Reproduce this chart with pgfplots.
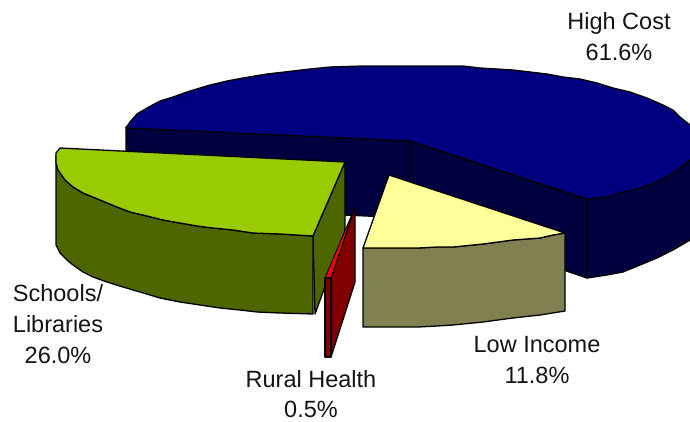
\documentclass[border=0pt]{standalone}
\usepackage{fontspec}
\setmainfont{Liberation Sans}
\usepackage{pgfplots}
\pgfplotsset{compat=1.18}
\definecolor{hcTop}{HTML}{000080}
\definecolor{hcSide}{HTML}{000040}
\definecolor{slTop}{HTML}{99CC00}
\definecolor{slSide}{HTML}{4D6600}
\definecolor{liTop}{HTML}{FFFF99}
\definecolor{liSide}{HTML}{808050}
\definecolor{rhTop}{HTML}{FF0000}
\definecolor{rhSide}{HTML}{800000}
\begin{document}
\begin{tikzpicture}
\begin{axis}[
  scale only axis, width=690pt, height=421pt,
  xmin=0, xmax=690, ymin=0, ymax=421, y dir=reverse,
  hide axis, no markers,
  every axis plot/.append style={draw=black, line width=1.3pt, line join=round},
]
% High Cost: walls
\addplot[fill=hcSide] coordinates {(126,127)(410,141)(410,218)(126,205)} -- cycle;
\addplot[fill=hcSide] coordinates {(410,141)(587,199)(587,278)(410,218)} -- cycle;
\addplot[fill=hcSide] coordinates {(587,199)(607,197)(623,192)(640,188)(657,182)(673,173)(690,160)(700,150)(700,232)(690,240)(673,250)(657,258)(640,265)(623,272)(607,275)(587,278)} -- cycle;
% High Cost: top
\addplot[fill=hcTop] coordinates {(126,128)(130,122)(137,114)(147,108)(160,101)(173,97)(190,91)(210,85)(227,81)(243,78)(267,74)(293,71)(310,69)(330,67)(363,66)(430,66)(463,66)(480,68)(497,69)(513,70)(530,72)(547,74)(563,77)(580,79)(597,83)(613,88)(630,92)(647,98)(663,105)(673,110)(680,117)(690,125)(700,135)(700,150)(690,160)(673,173)(657,182)(640,188)(623,192)(607,197)(587,199)(410,141)} -- cycle;
% Low Income
\addplot[fill=liSide] coordinates {(363,248)(418,248)(437,247)(453,247)(483,244)(513,240)(540,238)(553,235)(565,233)(565,311)(540,315)(513,318)(483,322)(453,325)(437,326)(418,327)(363,327)} -- cycle;
\addplot[fill=liTop] coordinates {(389,175)(565,233)(553,235)(540,238)(513,240)(483,244)(453,247)(437,247)(418,248)(363,248)} -- cycle;
% Schools/Libraries
\addplot[fill=slSide] coordinates {(345,162)(345,232)(315,314)(313,236)} -- cycle;
\addplot[fill=slSide] coordinates {(56,155)(56,163)(58,170)(65,180)(73,187)(83,193)(100,200)(117,207)(130,212)(147,216)(163,220)(180,223)(197,226)(213,228)(233,230)(253,233)(280,234)(313,236)(313,314)(280,313)(257,312)(240,310)(220,308)(200,305)(180,302)(160,298)(140,292)(123,287)(107,282)(93,277)(83,272)(73,265)(67,260)(60,253)(56,245)} -- cycle;
\addplot[fill=slTop] coordinates {(60,148)(345,162)(313,236)(280,234)(253,233)(233,230)(213,228)(197,226)(180,223)(163,220)(147,216)(130,212)(117,207)(100,200)(83,193)(73,187)(65,180)(58,170)(56,163)(56,153)} -- cycle;
% Rural Health
\addplot[fill=rhSide] coordinates {(331,278)(355,207)(355,282)(331,357)} -- cycle;
\addplot[fill=rhTop, line width=0.9pt] coordinates {(325,278)(331,278)(355,207)} -- cycle;
\addplot[fill=rhSide] coordinates {(325,278)(331,278)(331,357)(325,357)} -- cycle;
% Labels
\tikzset{lab/.style={anchor=base, inner sep=0pt, text=black!92, font=\fontsize{23.5}{27}\selectfont}}
\node[lab] at (axis cs:619,29) {High Cost};
\node[lab] at (axis cs:619,60) {61.6\%};
\node[lab] at (axis cs:58,301) {Schools/};
\node[lab] at (axis cs:58,332) {Libraries};
\node[lab] at (axis cs:58,363) {26.0\%};
\node[lab] at (axis cs:311,387) {Rural Health};
\node[lab] at (axis cs:311,417) {0.5\%};
\node[lab] at (axis cs:537,352) {Low Income};
\node[lab] at (axis cs:537,383) {11.8\%};
\end{axis}
\pgfresetboundingbox
\path[use as bounding box] (0,0) rectangle (690pt,421pt);
\end{tikzpicture}
\end{document}
